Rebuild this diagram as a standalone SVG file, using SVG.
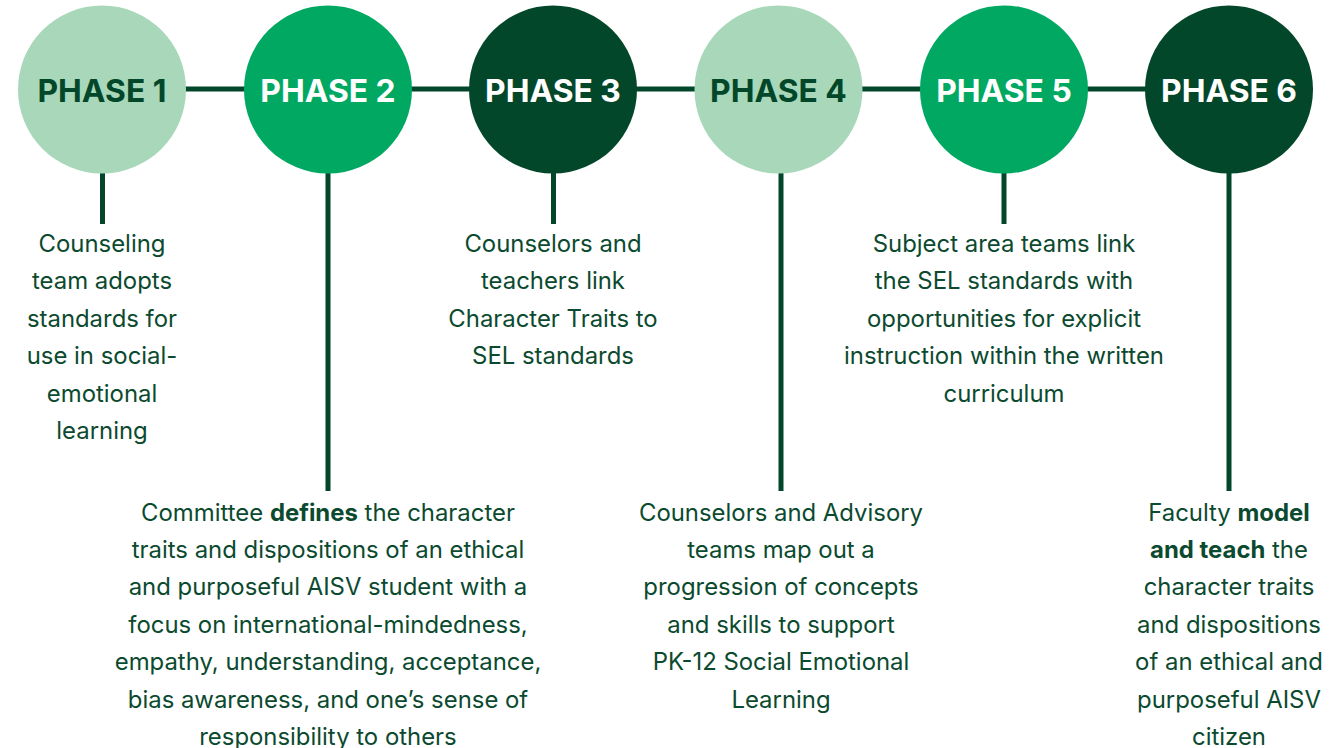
<svg xmlns="http://www.w3.org/2000/svg" width="1337" height="748" viewBox="0 0 1337 748">
<style>
.bg{fill:#ffffff}
.conn line{stroke:#03472A;stroke-width:5}
.c-light{fill:#A8D8B9}
.c-mid{fill:#00A862}
.c-dark{fill:#03472A}
.ph{font-family:Inter,"Liberation Sans",sans-serif;font-weight:700;font-size:31.8px;text-anchor:middle}
.ph-d{fill:#03472A}
.ph-w{fill:#ffffff}
.desc{font-family:Inter,"Liberation Sans",sans-serif;font-size:23.9px;fill:#0B4A2F;text-anchor:middle}
.b{font-weight:700}
</style>
<rect class="bg" x="0" y="0" width="1337" height="748"/>
<g id="connectors" class="conn">
<line x1="102" y1="89" x2="1229" y2="89"/>
<line x1="102.5" y1="165" x2="102.5" y2="224"/>
<line x1="328" y1="165" x2="328" y2="491"/>
<line x1="553.5" y1="165" x2="553.5" y2="224"/>
<line x1="781" y1="165" x2="781" y2="491"/>
<line x1="1004" y1="165" x2="1004" y2="224"/>
<line x1="1229" y1="165" x2="1229" y2="491"/>
</g>
<g id="phase1">
<circle class="c-light" cx="102" cy="89.5" r="84"/>
<text class="ph ph-d" x="102" y="101.5">PHASE 1</text>
<text class="desc"><tspan x="102" y="252">Counseling</tspan><tspan x="102" y="289.4">team adopts</tspan><tspan x="102" y="326.8">standards for</tspan><tspan x="102" y="364.2">use in social-</tspan><tspan x="102" y="401.6">emotional</tspan><tspan x="102" y="439">learning</tspan></text>
</g>
<g id="phase2">
<circle class="c-mid" cx="328" cy="89.5" r="84"/>
<text class="ph ph-w" x="328" y="101.5">PHASE 2</text>
<text class="desc"><tspan x="328" y="520.5">Committee <tspan class="b">defines</tspan> the character</tspan><tspan x="328" y="557.9">traits and dispositions of an ethical</tspan><tspan x="328" y="595.3">and purposeful AISV student with a</tspan><tspan x="328" y="632.7">focus on international-mindedness,</tspan><tspan x="328" y="670.1">empathy, understanding, acceptance,</tspan><tspan x="328" y="707.5">bias awareness, and one’s sense of</tspan><tspan x="328" y="744.9">responsibility to others</tspan></text>
</g>
<g id="phase3">
<circle class="c-dark" cx="553" cy="89.5" r="84"/>
<text class="ph ph-w" x="553" y="101.5">PHASE 3</text>
<text class="desc"><tspan x="553" y="252">Counselors and</tspan><tspan x="553" y="289.4">teachers link</tspan><tspan x="553" y="326.8">Character Traits to</tspan><tspan x="553" y="364.2">SEL standards</tspan></text>
</g>
<g id="phase4">
<circle class="c-light" cx="778.5" cy="89.5" r="84"/>
<text class="ph ph-d" x="778.5" y="101.5">PHASE 4</text>
<text class="desc"><tspan x="781" y="520.5">Counselors and Advisory</tspan><tspan x="781" y="557.9">teams map out a</tspan><tspan x="781" y="595.3">progression of concepts</tspan><tspan x="781" y="632.7">and skills to support</tspan><tspan x="781" y="670.1">PK-12 Social Emotional</tspan><tspan x="781" y="707.5">Learning</tspan></text>
</g>
<g id="phase5">
<circle class="c-mid" cx="1004" cy="89.5" r="84"/>
<text class="ph ph-w" x="1004" y="101.5">PHASE 5</text>
<text class="desc"><tspan x="1004" y="252">Subject area teams link</tspan><tspan x="1004" y="289.4">the SEL standards with</tspan><tspan x="1004" y="326.8">opportunities for explicit</tspan><tspan x="1004" y="364.2">instruction within the written</tspan><tspan x="1004" y="401.6">curriculum</tspan></text>
</g>
<g id="phase6">
<circle class="c-dark" cx="1229" cy="89.5" r="84"/>
<text class="ph ph-w" x="1229" y="101.5">PHASE 6</text>
<text class="desc"><tspan x="1229" y="520.5">Faculty <tspan class="b">model</tspan></tspan><tspan x="1229" y="557.9"><tspan class="b">and teach</tspan> the</tspan><tspan x="1229" y="595.3">character traits</tspan><tspan x="1229" y="632.7">and dispositions</tspan><tspan x="1229" y="670.1">of an ethical and</tspan><tspan x="1229" y="707.5">purposeful AISV</tspan><tspan x="1229" y="744.9">citizen</tspan></text>
</g>
</svg>
